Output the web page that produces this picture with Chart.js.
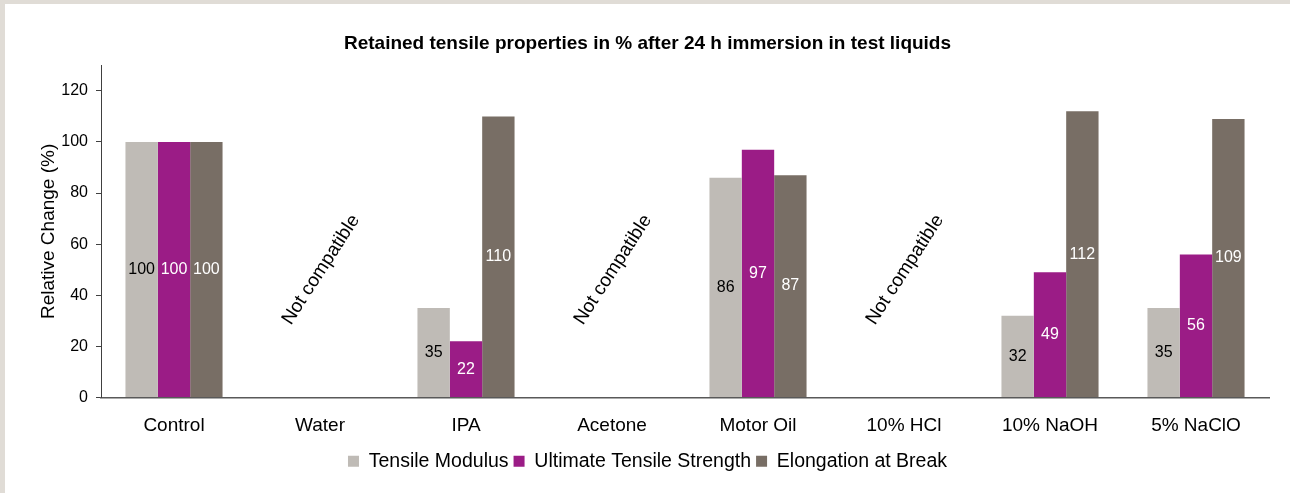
<!DOCTYPE html>
<html>
<head>
<meta charset="utf-8">
<title>Retained tensile properties</title>
<script src="https://cdn.jsdelivr.net/npm/chart.js@4/dist/chart.umd.min.js"></script>
<style>
	body { margin: 0; background: #e0dcd6; }
	#panel { position: absolute; left: 5px; top: 4px; width: 1285px; height: 489px; background: #ffffff; }
</style>
</head>
<body>
<div id="panel"><canvas id="tensileChart" width="1285" height="489"></canvas></div>
<script>
	var categories = ["Control", "Water", "IPA", "Acetone", "Motor Oil", "10% HCl", "10% NaOH", "5% NaClO"];
	var tensileModulus = [100, null, 35, null, 86, null, 32, 35];
	var ultimateStrength = [100, null, 22, null, 97, null, 49, 56];
	var elongation = [100, null, 110, null, 87, null, 112, 109];
	var notCompatible = ["Water", "Acetone", "10% HCl"];
	var yTicks = [0, 20, 40, 60, 80, 100, 120];
	var labelColors = ['#000000', '#ffffff', '#ffffff'];

	var fontName = "'Liberation Sans', Arial, sans-serif";

	// writes the value in the middle of each bar
	var barLabels =
	{
		id: 'barLabels',
		afterDatasetsDraw: function(chart)
		{
			var ctx = chart.ctx;
			ctx.save();
			ctx.font = '16px ' + fontName;
			ctx.textAlign = 'center';
			ctx.textBaseline = 'middle';
			chart.data.datasets.forEach(function(ds, i)
			{
				var meta = chart.getDatasetMeta(i);
				meta.data.forEach(function(bar, j)
				{
					if (ds.data[j] == null) return;
					ctx.fillStyle = labelColors[i];
					ctx.fillText(ds.data[j], bar.x, (bar.y + bar.base) / 2);
				});
			});
			ctx.restore();
		}
	};

	// "Not compatible" notes for the liquids with no result
	var notCompatibleNotes =
	{
		id: 'notCompatibleNotes',
		afterDatasetsDraw: function(chart)
		{
			var ctx = chart.ctx;
			var xs = chart.scales.x;
			var ys = chart.scales.y;
			ctx.save();
			ctx.font = '19px ' + fontName;
			ctx.fillStyle = '#000000';
			ctx.textAlign = 'center';
			ctx.textBaseline = 'middle';
			notCompatible.forEach(function(name)
			{
				var x = xs.getPixelForValue(categories.indexOf(name));
				var y = ys.getPixelForValue(50);
				ctx.save();
				ctx.translate(x + 1, y);
				ctx.rotate(-57 * Math.PI / 180);
				ctx.fillText("Not compatible", 0, 0);
				ctx.restore();
			});
			ctx.restore();
		}
	};

	window.onload = () =>
	{
		var ctx = document.getElementById('tensileChart').getContext('2d');
		var chartConfig =
		{
			type: 'bar',
			data:
			{
				labels: categories,
				datasets: [
					{ label: "Tensile Modulus", data: tensileModulus, backgroundColor: '#bfbbb6' },
					{ label: "Ultimate Tensile Strength", data: ultimateStrength, backgroundColor: '#9b1c86' },
					{ label: "Elongation at Break", data: elongation, backgroundColor: '#786e65' }
				]
			},
			options:
			{
				responsive: false,
				animation: false,
				datasets: { bar: { barPercentage: 1, categoryPercentage: 0.665 } },
				layout: { padding: { left: 21, right: 21, top: 0, bottom: 12 } },
				scales:
				{
					x:
					{
						grid: { display: false, drawTicks: false },
						border: { display: true, color: '#595959', width: 1.5 },
						ticks: { color: '#000000', padding: 16.5, font: { family: fontName, size: 19 } },
						afterFit: function(scale) { scale.height = 49; }
					},
					y:
					{
						min: 0,
						max: 130,
						grid: { drawOnChartArea: false, drawTicks: true, tickLength: 5, color: '#404040' },
						border: { display: true, color: '#404040', width: 1 },
						ticks: { stepSize: 20, color: '#000000', padding: 8, font: { family: fontName, size: 16 } },
						afterBuildTicks: function(scale)
						{
							scale.ticks = yTicks.map(function(v) { return { value: v }; });
						},
						title:
						{
							display: true,
							text: 'Relative Change (%)',
							color: '#000000',
							padding: { top: 11.5, bottom: 0 },
							font: { family: fontName, size: 19 }
						},
						afterFit: function(scale) { scale.width = 75; }
					}
				},
				plugins:
				{
					title:
					{
						display: true,
						text: 'Retained tensile properties in % after 24 h immersion in test liquids',
						color: '#000000',
						padding: { top: 28.5, bottom: 10 },
						font: { family: fontName, size: 19, weight: 'bold' }
					},
					legend:
					{
						position: 'bottom',
						labels:
						{
							color: '#000000',
							boxWidth: 11,
							boxHeight: 11,
							padding: 5,
							font: { family: fontName, size: 19.5 }
						}
					},
					tooltip: { enabled: false }
				}
			},
			plugins: [barLabels, notCompatibleNotes]
		};
		var chart = new Chart(ctx, chartConfig);
	};
</script>
</body>
</html>
